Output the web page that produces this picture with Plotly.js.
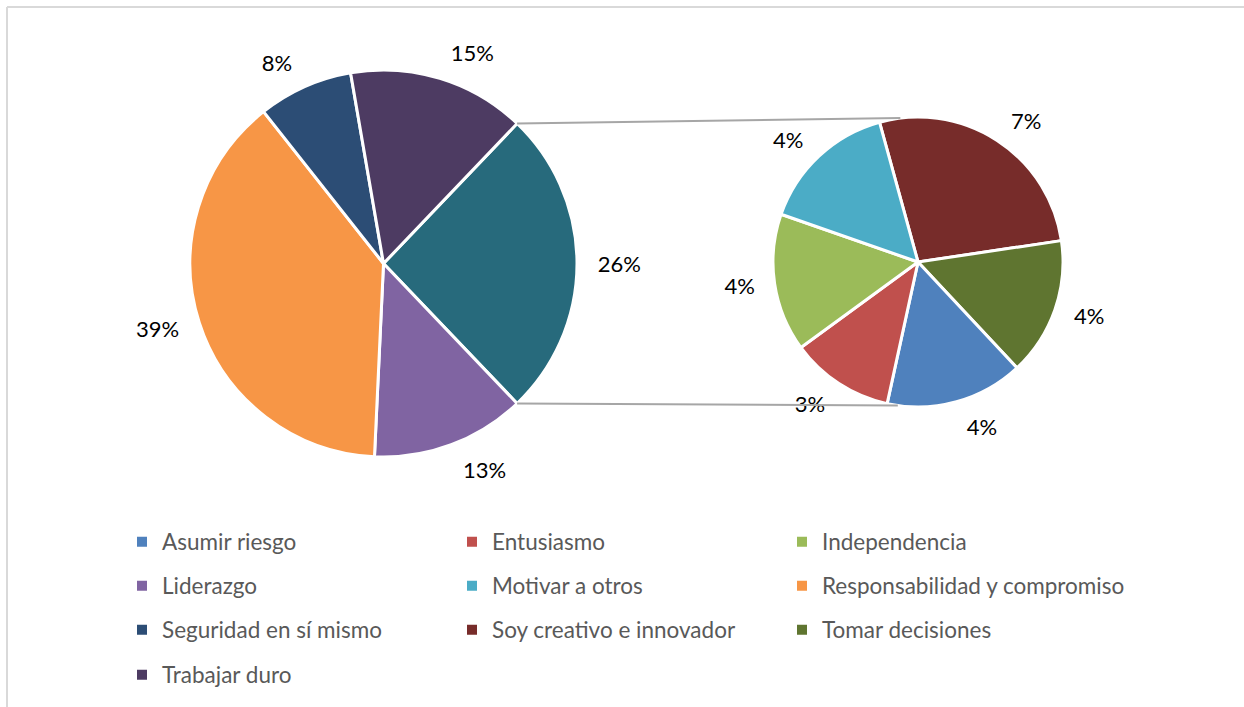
<!DOCTYPE html>
<html><head><meta charset="utf-8">
<script src="https://cdn.plot.ly/plotly-3.0.1.min.js"></script>
<style>html,body{margin:0;padding:0;background:#fff}#chart{width:1244px;height:707px}</style>
</head><body><div id="chart"></div>
<script>
// ---- data ----
const categories = ["Asumir riesgo","Entusiasmo","Independencia","Liderazgo","Motivar a otros","Responsabilidad y compromiso","Seguridad en sí mismo","Soy creativo e innovador","Tomar decisiones","Trabajar duro"];
const shares = [4,3,4,13,4,39,8,7,4,15];
const colors = ["#4F81BD","#C0504D","#9BBB59","#8064A2","#4BACC6","#F79646","#2C4D75","#772C2A","#5F7530","#4D3B62"];
const mainOrder = ["Liderazgo","Responsabilidad y compromiso","Seguridad en sí mismo","Trabajar duro"];
const secondOrder = ["Soy creativo e innovador","Tomar decisiones","Asumir riesgo","Entusiasmo","Independencia","Motivar a otros"];
const otherLabel = "Otros";
const otherColor = "#276A7C";

// ---- geometry (layout only) ----
const W = 1244, H = 707;
const mainC = [383.5, 263.5], mainR = 193.5;
const secC = [918, 262], secR = 145;
const labelGapMain = 14, labelGapSec = 13;
const secRotation = -15.4;
const FONT = "Lato, 'Liberation Sans', sans-serif";
const LABEL_SIZE = 22, LEGEND_SIZE = 22.5;

const val = n => shares[categories.indexOf(n)];
const col = n => colors[categories.indexOf(n)];
const secVals = secondOrder.map(val);
const otherVal = secVals.reduce((a,b)=>a+b,0);
const mainVals = [otherVal].concat(mainOrder.map(val));
const mainLabels = [otherLabel].concat(mainOrder);
const mainTotal = mainVals.reduce((a,b)=>a+b,0);
const mainRotation = 90 - otherVal/mainTotal*180;

function dom(c, r){
  return {x:[(c[0]-r)/W,(c[0]+r)/W], y:[1-(c[1]+r)/H, 1-(c[1]-r)/H]};
}
const base = {type:'pie', sort:false, direction:'clockwise', hoverinfo:'none', showlegend:false};

const traces = [];
// visible pies
traces.push(Object.assign({}, base, {labels:mainLabels, values:mainVals, textinfo:'none',
  rotation:mainRotation, domain:dom(mainC, mainR),
  marker:{colors:[otherColor].concat(mainOrder.map(col)), line:{color:'#FFFFFF', width:3}}}));
traces.push(Object.assign({}, base, {labels:secondOrder, values:secVals, textinfo:'none',
  rotation:secRotation, domain:dom(secC, secR),
  marker:{colors:secondOrder.map(col), line:{color:'#FFFFFF', width:3}}}));
// transparent label rings (same values, slightly larger radius) carrying the outside labels
const labelCommon = {textposition:'outside', texttemplate:'%{value}%',
  outsidetextfont:{family:FONT, size:LABEL_SIZE, color:'#000000'}};
traces.push(Object.assign({}, base, labelCommon, {labels:mainLabels, values:mainVals,
  rotation:mainRotation, domain:dom(mainC, mainR+labelGapMain),
  marker:{colors:mainVals.map(()=> 'rgba(0,0,0,0)'), line:{width:0}}}));
traces.push(Object.assign({}, base, labelCommon, {labels:secondOrder, values:secVals,
  rotation:secRotation, domain:dom(secC, secR+labelGapSec),
  marker:{colors:secVals.map(()=> 'rgba(0,0,0,0)'), line:{width:0}}}));

// legend: one small legend per entry, laid out in a 3-column grid
const legendIds = categories.map((c,i)=> i===0 ? 'legend' : 'legend'+(i+1));
categories.forEach((c,i)=>{
  traces.push({type:'scatter', mode:'markers', x:[null], y:[null], name:c,
    legend:legendIds[i], hoverinfo:'none',
    marker:{symbol:'square', size:10, color:colors[i], line:{width:0}}});
});

// connector lines, derived from slice geometry
const d2r = Math.PI/180;
const a1 = mainRotation*d2r, a2 = (mainRotation + otherVal/mainTotal*360)*d2r;
const pt = (c,r,a)=>[c[0]+r*Math.sin(a), c[1]-r*Math.cos(a)];
const p1 = pt(mainC, mainR, a1), p2 = pt(mainC, mainR, a2);
const q1 = pt(secC, secR, -7*d2r), q2 = pt(secC, secR, 188*d2r);
const px = x=>x/W, py = y=>1-y/H;
const shapes = [
  {type:'line', xref:'paper', yref:'paper', x0:px(p1[0]), y0:py(p1[1]), x1:px(q1[0]), y1:py(q1[1]), line:{color:'#A6A6A6', width:2}},
  {type:'line', xref:'paper', yref:'paper', x0:px(p2[0]), y0:py(p2[1]), x1:px(q2[0]), y1:py(q2[1]), line:{color:'#A6A6A6', width:2}},
  {type:'line', xref:'paper', yref:'paper', x0:px(7), y0:py(7), x1:1, y1:py(7), line:{color:'#D9D9D9', width:2}},
  {type:'line', xref:'paper', yref:'paper', x0:px(7), y0:py(7), x1:px(7), y1:0, line:{color:'#D9D9D9', width:2}}
];

const rowY = [542, 586, 630, 675];
const colX = [122, 452, 782];
const layout = {width:W, height:H, margin:{l:0,r:0,t:0,b:0}, paper_bgcolor:'#FFFFFF', plot_bgcolor:'#FFFFFF',
  font:{family:FONT}, xaxis:{visible:false, range:[0,1]}, yaxis:{visible:false, range:[0,1]},
  shapes:shapes};
legendIds.forEach((ln,i)=>{
  layout[ln] = {orientation:'h', x:px(colX[i%3]), xanchor:'left', y:py(rowY[Math.floor(i/3)]), yanchor:'middle',
    bgcolor:'rgba(0,0,0,0)', borderwidth:0,
    font:{family:FONT, size:LEGEND_SIZE, color:'#595959'}, itemclick:false, itemdoubleclick:false};
});

Plotly.newPlot('chart', traces, layout, {staticPlot:true, displayModeBar:false});
</script>
</body></html>
